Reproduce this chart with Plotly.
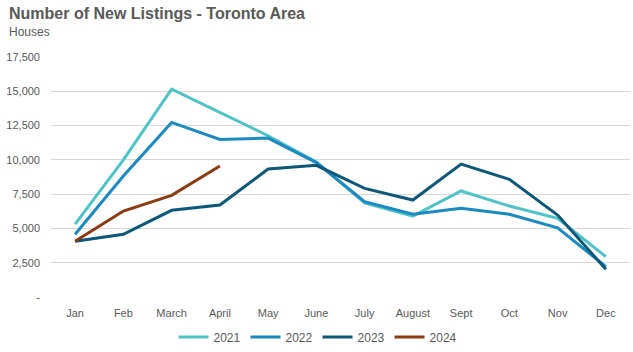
import plotly.graph_objects as go

months = ["Jan", "Feb", "March", "April", "May", "June", "July", "August", "Sept", "Oct", "Nov", "Dec"]
y2021 = [5320, 10000, 15160, 13430, 11760, 9840, 6870, 5900, 7730, 6630, 5740, 2940]
y2022 = [4570, 8820, 12730, 11490, 11590, 9800, 6950, 6030, 6470, 6030, 5050, 2210]
y2023 = [4060, 4570, 6320, 6710, 9330, 9600, 7920, 7070, 9690, 8580, 5980, 2020]
y2024 = [4060, 6270, 7410, 9550]

series = [
    ("2021", y2021, "#4FC3C8"),
    ("2022", y2022, "#1B8AC2"),
    ("2023", y2023, "#0D5878"),
    ("2024", y2024, "#8A3B12"),
]

tickvals = [0, 2500, 5000, 7500, 10000, 12500, 15000, 17500]
ticktext = ["-", "2,500", "5,000", "7,500", "10,000", "12,500", "15,000", "17,500"]

W, H = 633, 352
ML, MR, MT, MB = 51, 3, 57, 55
plot_w = W - ML - MR
plot_h = H - MT - MB


def px_to_paper(px, py):
    return (px - ML) / plot_w, 1 + (MT - py) / plot_h


fig = go.Figure()
for name, ys, color in series:
    fig.add_trace(go.Scatter(
        x=months[:len(ys)], y=ys, name=name, mode="lines",
        line=dict(color=color, width=3),
    ))

tx, ty = px_to_paper(7, 14)
sx, sy = px_to_paper(7, 32)
lx, ly = px_to_paper(318, 337)

fig.update_layout(
    width=W, height=H,
    margin=dict(l=ML, r=MR, t=MT, b=MB, autoexpand=False),
    paper_bgcolor="white", plot_bgcolor="white",
    font=dict(family="Liberation Sans, Arial, sans-serif", size=11, color="#595959"),
    showlegend=True,
    legend=dict(orientation="h", x=lx, xanchor="center", y=ly, yanchor="middle",
                font=dict(size=12, color="#595959"), traceorder="normal",
                itemwidth=30, tracegroupgap=0),
    annotations=[
        dict(text="<b>Number of New Listings - Toronto Area</b>", x=tx, y=ty, xref="paper", yref="paper",
             xanchor="left", yanchor="middle", showarrow=False,
             font=dict(size=16, color="#595959")),
        dict(text="Houses", x=sx, y=sy, xref="paper", yref="paper",
             xanchor="left", yanchor="middle", showarrow=False,
             font=dict(size=12, color="#595959")),
    ],
)

fig.update_xaxes(
    type="category", showgrid=False, showline=False, ticks="",
    range=[-0.5, 11.5], tickfont=dict(size=11, color="#595959"),
    ticklabelstandoff=8,
)
fig.update_yaxes(
    range=[0, 17500], tickvals=tickvals, ticktext=ticktext,
    showgrid=True, gridcolor="#D9D9D9", gridwidth=1, zeroline=False,
    showline=False, ticks="", tickfont=dict(size=11, color="#595959"),
    ticklabelstandoff=10,
)

fig.write_html("out.html")
